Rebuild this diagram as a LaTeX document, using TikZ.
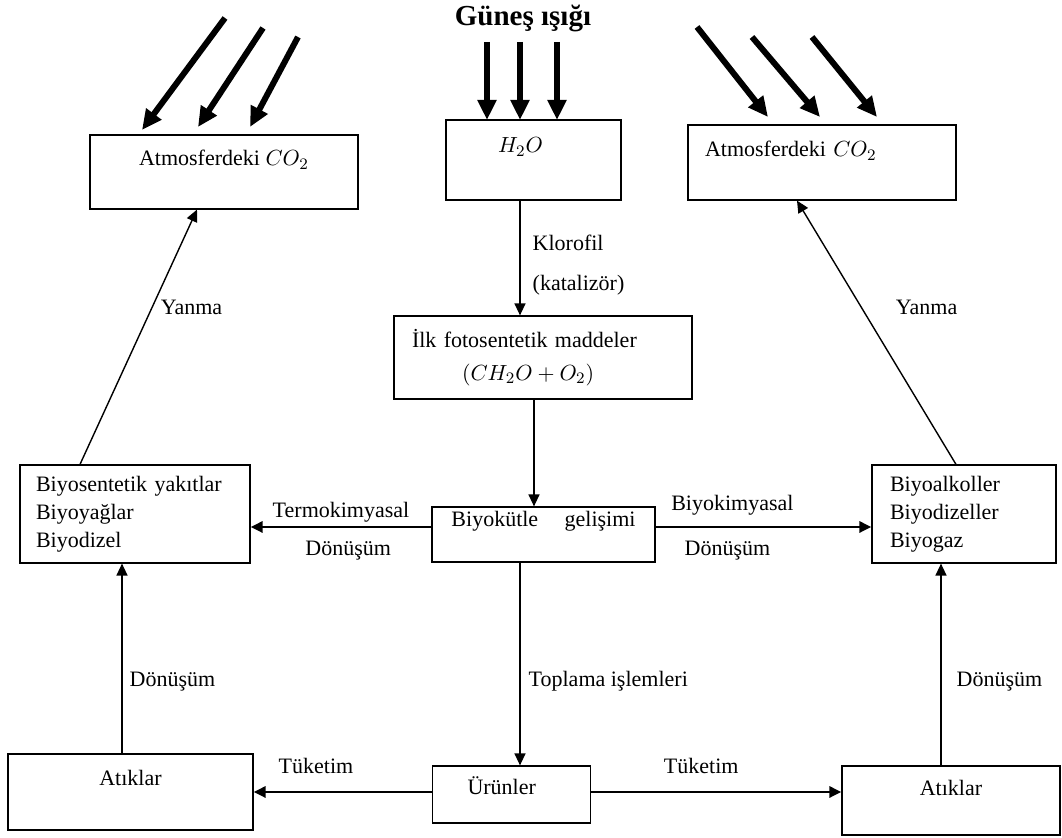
\documentclass[tikz,border=0pt]{standalone}
\usepackage{fontspec}
\setmainfont{Liberation Serif}
\usetikzlibrary{arrows.meta,positioning}

\tikzset{
  kutu/.style={draw, line width=0.6pt, inner sep=0pt, font=\fontsize{11}{14}\selectfont},
  etiket/.style={inner sep=0pt, font=\fontsize{11}{14}\selectfont},
  ok/.style={line width=0.7pt, -{Triangle[length=6pt,width=5.5pt]}},
  kalinok/.style={line width=1.4pt, -{Triangle[length=6pt,width=5.5pt]}},
  isin/.style={line width=3pt, -{Triangle[length=10pt,width=9pt]}},
}

\begin{document}
\begin{tikzpicture}[x=0.5pt,y=-0.5pt]
\useasboundingbox (0,0) rectangle (1062,838);

% kutular
\node[font=\bfseries\fontsize{14.5}{17}\selectfont] (gunes) at (523,18) {Güneş ışığı};
\node[kutu, minimum width=134pt, text height=15.5pt, text depth=21.5pt] (atmL) at (224,172) {Atmosferdeki $CO_2$};
\node[kutu, text width=35.5pt, inner xsep=26pt, text height=16.5pt, text depth=23.5pt, align=left] (su) at (533.5,160) {$H_2O$};
\node[kutu, text width=117pt, inner xsep=8.5pt, text height=16pt, text depth=21.5pt, align=left] (atmR) at (822,162.5) {Atmosferdeki $CO_2$};
\node[kutu, text width=131pt, inner xsep=9pt, minimum height=41.5pt, align=left, font=\fontsize{11}{16.5}\selectfont] (ilk) at (543,357.5) {İlk fotosentetik maddeler\\\hspace{25pt}$(CH_2O+O_2)$};
\node[kutu, text width=99pt, inner xsep=8pt, minimum height=49pt, align=left] (yakit) at (135,514) {Biyosentetik yakıtlar\\Biyoyağlar\\Biyodizel};
\node[kutu, minimum width=111.5pt, text height=10pt, text depth=17.5pt] (kutle) at (543.5,534.5) {Biyokütle\hspace{1.2em}gelişimi};
\node[kutu, text width=74pt, inner xsep=9pt, minimum height=49pt, align=left] (alkol) at (964,514) {Biyoalkoller\\Biyodizeller\\Biyogaz};
\node[kutu, minimum width=122.5pt, text height=16pt, text depth=22pt] (atikL) at (130.5,792) {Atıklar};
\node[kutu, text width=44pt, inner xsep=17.5pt, text height=14.5pt, text depth=14pt, align=left] (urun) at (511.5,794.5) {Ürünler};
\node[kutu, minimum width=109pt, text height=15pt, text depth=19.5pt] (atikR) at (951,800.5) {Atıklar};

% gunes isigi
\foreach \xa/\ya/\xb/\yb in {225/18/142/130, 263/28/198/127, 298/37/250/127,
    487/42/487/120, 520/42/520/120, 557/42/557/120,
    697/27/768/117, 752/37/820/117, 812/37/877/117}
  \draw[isin] (\xa,\ya) -- (\xb,\yb);

% oklar
\draw[ok] ([xshift=-6.75pt]su.south) -- ([xshift=-6.75pt]su.south |- ilk.north)
  node[etiket, pos=0.365, right=6pt] (klorofil) {Klorofil}
  node[etiket, pos=0.74, right=6pt] (katal) {(katalizör)};
\draw[ok] ([xshift=-4.5pt]ilk.south) -- ([xshift=-4.5pt]ilk.south |- kutle.north);
\draw[ok] ([xshift=-11.75pt]kutle.south) -- ([xshift=-11.75pt]kutle.south |- urun.north)
  node[etiket, pos=0.586, right=4pt] (topla) {Toplama işlemleri};
\draw[kalinok] ([yshift=3.75pt]kutle.west) -- ([yshift=3.75pt]kutle.west -| yakit.east)
  node[etiket, midway, above=1.5pt] (termo) {Termokimyasal}
  node[etiket, pos=0.46, below=6.5pt] (donL) {Dönüşüm};
\draw[kalinok] ([yshift=3.75pt]kutle.east) -- ([yshift=3.75pt]kutle.east -| alkol.west)
  node[etiket, pos=0.356, above=5pt] (biyok) {Biyokimyasal}
  node[etiket, pos=0.333, below=6.5pt] (donR) {Dönüşüm};
\draw[ok] ([xshift=-4.25pt]atikL.north) -- ([xshift=-4.25pt]atikL.north |- yakit.south)
  node[etiket, pos=0.377, right=3.5pt] (donAL) {Dönüşüm};
\draw[ok] ([xshift=-5pt]atikR.north) -- ([xshift=-5pt]atikR.north |- alkol.south)
  node[etiket, pos=0.414, right=7.5pt] (donAR) {Dönüşüm};
\draw[kalinok] ([yshift=1.25pt]urun.west) -- ([yshift=1.25pt]urun.west -| atikL.east)
  node[etiket, pos=0.65, above=8.5pt] (tukL) {Tüketim};
\draw[kalinok] ([yshift=1.25pt]urun.east) -- ([yshift=1.25pt]urun.east -| atikR.west)
  node[etiket, pos=0.44, above=8.5pt] (tukR) {Tüketim};
\draw[ok] ([xshift=-27.5pt]yakit.north) -- ([xshift=-13.5pt]atmL.south)
  node[etiket, pos=0.617, right=4pt] (yanL) {Yanma};
\draw[ok] ([xshift=-4pt]alkol.north) -- ([xshift=-12.5pt]atmR.south)
  node[etiket, pos=0.596, right=17pt] (yanR) {Yanma};
\end{tikzpicture}
\end{document}
